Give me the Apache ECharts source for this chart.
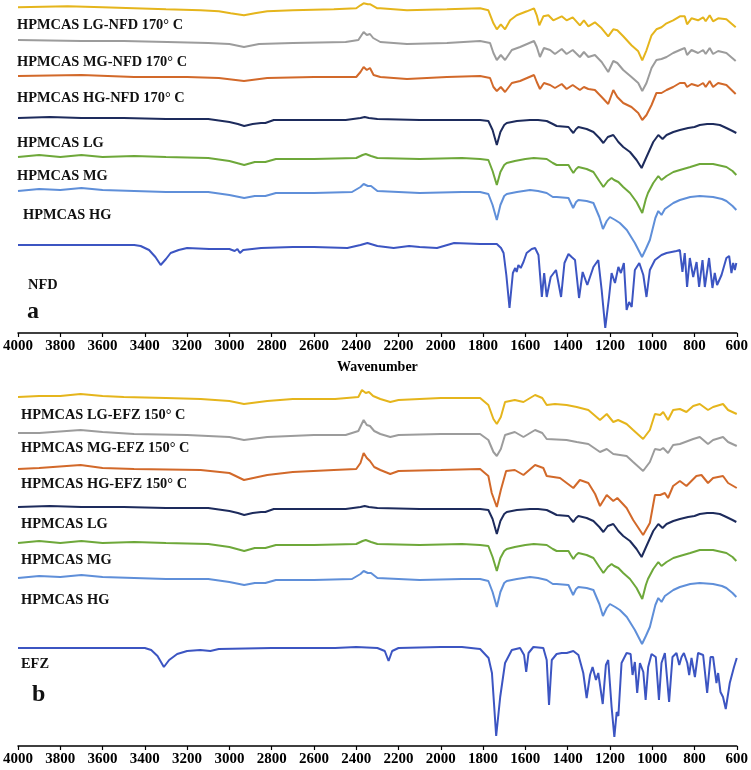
<!DOCTYPE html>
<html>
<head>
<meta charset="utf-8">
<script src="https://cdn.jsdelivr.net/npm/echarts@6/dist/echarts.min.js"></script>
<style>html,body{margin:0;padding:0;background:#fff}#c{width:751px;height:770px}</style>
</head>
<body>
<div id="c"></div>
<script>
// ---------- DATA ----------
// wavenumber axis ticks (cm^-1)
const xMin = 600, xMax = 4000, xStep = 200;

// Spectra: [wavenumber, transmittance change relative to the curve's own baseline (a.u.)]
const hpmcasLG = [[4000,0],[3850,1],[3700,0],[3500,0],[3300,-1],[3100,-1],[3000,-4],[2960,-6],[2930,-8],[2890,-6],[2850,-5],[2830,-5],[2790,-2],[2600,-2],[2450,-2],[2380,0],[2360,1],[2340,0],[2300,-1],[2100,-2],[1950,-2],[1814,-2],[1775,-3],[1755,-12],[1735,-27],[1718,-14],[1700,-7],[1688,-5],[1640,-3],[1578,-2],[1540,-2],[1499,-3],[1470,-6],[1452,-8],[1396,-9],[1385,-12],[1373,-15],[1360,-11],[1349,-9],[1310,-11],[1278,-14],[1250,-20],[1231,-25],[1210,-19],[1184,-17],[1170,-21],[1160,-24],[1137,-29],[1105,-34],[1074,-42],[1050,-50],[1027,-39],[995,-24],[971,-17],[951,-21],[932,-17],[900,-14],[869,-12],[830,-10],[800,-9],[775,-7],[740,-6],[712,-6],[680,-7],[649,-10],[620,-13],[602,-15]];
const hpmcasMG = [[4000,0],[3900,2],[3800,0],[3700,2],[3600,0],[3450,1],[3300,0],[3100,-1],[3000,-4],[2930,-8],[2880,-5],[2830,-5],[2780,-2],[2600,-2],[2400,-1],[2370,2],[2355,3],[2330,1],[2300,-1],[2100,-2],[1900,-1],[1814,-2],[1775,-3],[1755,-14],[1735,-28],[1718,-15],[1700,-8],[1688,-6],[1650,-4],[1600,-2],[1560,-1],[1499,-2],[1470,-6],[1452,-8],[1396,-8],[1385,-12],[1373,-16],[1360,-12],[1349,-10],[1310,-12],[1278,-15],[1250,-24],[1231,-30],[1210,-24],[1192,-21],[1180,-23],[1160,-25],[1137,-30],[1105,-36],[1074,-45],[1047,-56],[1030,-42],[1020,-36],[995,-26],[971,-19],[956,-23],[932,-19],[900,-15],[869,-13],[820,-10],[775,-7],[712,-7],[649,-10],[620,-14],[602,-18]];
const hpmcasHG = [[4000,0],[3900,2],[3800,1],[3700,3],[3600,1],[3450,0],[3300,-1],[3100,-1],[3000,-4],[2930,-7],[2880,-5],[2830,-5],[2780,-2],[2600,-2],[2420,-1],[2380,4],[2365,7],[2345,5],[2330,5],[2300,0],[2100,-2],[1900,-1],[1814,-1],[1775,-3],[1755,-14],[1735,-29],[1718,-14],[1700,-5],[1688,-3],[1640,-1],[1578,1],[1540,0],[1499,-2],[1470,-6],[1452,-6],[1396,-7],[1385,-12],[1374,-17],[1360,-11],[1349,-9],[1310,-10],[1278,-12],[1250,-26],[1233,-38],[1215,-30],[1200,-26],[1175,-29],[1153,-32],[1120,-39],[1082,-52],[1048,-66],[1030,-58],[1011,-49],[985,-27],[971,-20],[956,-24],[940,-18],[900,-12],[869,-9],[820,-6],[775,-5],[712,-6],[670,-8],[649,-10],[620,-15],[602,-19]];
const nfd = [[4000,0],[3700,0],[3450,0],[3420,-1],[3380,-5],[3350,-12],[3325,-20],[3300,-14],[3278,-8],[3240,-5],[3200,-3],[3095,-4],[3000,-4],[2975,-6],[2962,-4],[2950,-8],[2935,-5],[2850,-3],[2700,-2],[2600,-2],[2442,-3],[2380,0],[2347,2],[2300,-1],[2223,-3],[2150,-1],[2100,-2],[2018,-3],[1937,2],[1814,1],[1735,1],[1715,-3],[1703,-8],[1690,-30],[1675,-63],[1659,-28],[1648,-23],[1641,-27],[1633,-20],[1622,-23],[1609,-17],[1594,-8],[1570,-4],[1554,-3],[1538,-10],[1522,-52],[1511,-28],[1499,-52],[1480,-32],[1455,-25],[1431,-52],[1415,-18],[1396,-9],[1381,-12],[1365,-15],[1346,-53],[1329,-27],[1307,-40],[1278,-22],[1255,-15],[1239,-45],[1222,-83],[1204,-52],[1192,-28],[1176,-38],[1160,-22],[1148,-28],[1134,-18],[1121,-65],[1109,-57],[1097,-62],[1082,-25],[1061,-18],[1042,-30],[1027,-52],[1011,-25],[987,-15],[956,-10],[932,-8],[885,-6],[869,-5],[857,-27],[846,-8],[835,-42],[822,-13],[806,-32],[790,-17],[778,-42],[762,-15],[751,-42],[731,-13],[715,-43],[704,-28],[693,-40],[672,-30],[649,-13],[636,-11],[625,-28],[617,-18],[609,-25],[602,-18]];
const efz = [[4000,0],[3800,0],[3600,0],[3400,0],[3370,-2],[3340,-8],[3310,-19],[3285,-12],[3247,-6],[3200,-3],[3138,-2],[3090,-3],[3050,-1],[2800,0],[2600,0],[2500,0],[2400,1],[2300,0],[2265,-3],[2247,-13],[2230,-3],[2200,0],[2000,1],[1900,1],[1814,-1],[1774,-10],[1758,-25],[1738,-88],[1719,-49],[1696,-15],[1664,-2],[1625,0],[1606,-7],[1596,-24],[1585,-5],[1562,1],[1515,0],[1499,-12],[1488,-57],[1475,-12],[1452,-6],[1428,-5],[1404,-5],[1373,-3],[1349,-7],[1326,-25],[1310,-50],[1294,-27],[1282,-19],[1266,-32],[1255,-25],[1234,-56],[1219,-17],[1208,-12],[1192,-59],[1179,-89],[1168,-64],[1160,-68],[1145,-15],[1121,-5],[1102,-6],[1093,-27],[1082,-14],[1071,-45],[1058,-15],[1042,-24],[1031,-52],[1019,-19],[1003,-6],[983,-9],[968,-52],[956,-15],[940,-5],[920,-54],[904,-9],[885,-5],[872,-17],[861,-9],[850,-5],[834,-15],[825,-27],[814,-10],[798,-29],[783,-5],[759,-7],[740,-45],[724,-9],[712,-9],[696,-35],[688,-25],[677,-44],[665,-49],[652,-61],[633,-35],[613,-19],[600,-10]];
const lgNFD = [[4000,0],[3765,1],[3600,0],[3451,-1],[3300,-2],[3136,-3],[3050,-4],[2994,-6],[2931,-8],[2880,-6],[2821,-4],[2700,-3],[2506,-2],[2400,-1],[2380,2],[2365,4],[2345,3],[2333,3],[2300,-1],[2286,-1],[2160,-3],[1971,-2],[1814,-1],[1775,-3],[1751,-16],[1735,-22],[1716,-17],[1696,-22],[1672,-13],[1641,-8],[1593,-4],[1559,-1],[1546,-8],[1534,-18],[1515,-9],[1491,-8],[1468,-13],[1428,-9],[1405,-13],[1376,-10],[1342,-18],[1323,-13],[1302,-19],[1271,-15],[1239,-21],[1208,-29],[1184,-22],[1165,-23],[1137,-29],[1098,-38],[1066,-44],[1047,-53],[1027,-43],[1003,-28],[980,-22],[956,-20],[932,-16],[901,-13],[869,-9],[846,-9],[835,-17],[814,-11],[783,-13],[759,-10],[747,-14],[728,-8],[712,-14],[688,-11],[649,-12],[605,-20]];
const mgNFD = [[4000,0],[3700,-1],[3500,-1],[3294,-2],[3100,-3],[3000,-4],[2931,-7],[2860,-4],[2700,-3],[2450,-2],[2390,0],[2365,8],[2350,5],[2335,6],[2320,2],[2286,-2],[2160,-4],[1971,-3],[1814,-1],[1767,-3],[1751,-13],[1735,-20],[1716,-15],[1696,-20],[1664,-10],[1625,-7],[1559,-1],[1546,-7],[1531,-17],[1512,-8],[1483,-10],[1460,-14],[1428,-9],[1405,-14],[1376,-10],[1342,-17],[1323,-12],[1302,-17],[1271,-15],[1239,-22],[1208,-32],[1184,-21],[1165,-23],[1137,-30],[1098,-37],[1066,-43],[1047,-51],[1027,-43],[1003,-28],[980,-20],[956,-19],[932,-17],[901,-13],[869,-10],[846,-8],[835,-15],[814,-10],[783,-13],[759,-10],[747,-14],[728,-8],[712,-14],[688,-11],[649,-13],[605,-21]];
const hgNFD = [[4000,0],[3700,1],[3451,-1],[3200,-1],[3050,-2],[2931,-5],[2821,-2],[2600,-1],[2400,-1],[2380,4],[2365,9],[2350,6],[2335,8],[2318,1],[2286,-1],[2160,-3],[1971,-1],[1814,0],[1767,-2],[1751,-11],[1735,-15],[1716,-11],[1696,-16],[1664,-7],[1625,-5],[1559,1],[1546,-6],[1531,-13],[1512,-7],[1483,-9],[1460,-12],[1428,-8],[1405,-13],[1376,-9],[1342,-14],[1323,-11],[1302,-13],[1271,-14],[1239,-21],[1208,-28],[1184,-14],[1165,-21],[1137,-27],[1098,-31],[1066,-37],[1047,-44],[1027,-39],[1003,-29],[980,-17],[956,-17],[932,-14],[901,-11],[869,-7],[846,-7],[835,-11],[814,-8],[783,-10],[759,-7],[747,-11],[728,-5],[712,-11],[688,-7],[649,-9],[605,-18]];
const lgEFZ = [[4000,0],[3900,1],[3800,1],[3704,3],[3600,1],[3500,0],[3300,-1],[3136,-2],[3000,-4],[2931,-7],[2821,-4],[2700,-2],[2500,-2],[2390,0],[2373,7],[2355,4],[2340,5],[2320,1],[2286,-2],[2239,-5],[2200,-3],[2000,-1],[1814,-1],[1775,-8],[1751,-22],[1735,-27],[1716,-20],[1696,-5],[1650,-3],[1609,-5],[1554,2],[1520,-1],[1499,-8],[1460,-7],[1405,-8],[1357,-10],[1302,-13],[1247,-23],[1215,-17],[1184,-25],[1161,-23],[1121,-27],[1090,-33],[1043,-42],[1011,-33],[987,-17],[962,-18],[948,-15],[925,-23],[901,-13],[869,-12],[838,-15],[806,-9],[775,-7],[736,-13],[712,-10],[665,-7],[641,-13],[600,-17]];
const mgEFZ = [[4000,0],[3900,0],[3704,3],[3600,1],[3451,-1],[3200,-2],[3000,-4],[2931,-7],[2821,-4],[2600,-2],[2450,-2],[2390,2],[2365,13],[2350,8],[2335,7],[2315,2],[2286,-1],[2239,-4],[2200,-2],[2000,-1],[1814,-1],[1775,-7],[1751,-19],[1735,-23],[1716,-16],[1696,-2],[1650,1],[1609,-4],[1554,3],[1520,0],[1499,-6],[1405,-7],[1357,-9],[1302,-11],[1247,-19],[1215,-16],[1184,-21],[1121,-23],[1090,-29],[1043,-38],[1011,-29],[987,-16],[962,-17],[948,-15],[925,-20],[901,-12],[869,-11],[806,-6],[775,-4],[736,-11],[712,-7],[665,-4],[641,-9],[600,-13]];
const hgEFZ = [[4000,0],[3900,1],[3704,4],[3600,1],[3451,0],[3136,-1],[3000,-4],[2931,-11],[2821,-6],[2700,-3],[2506,-1],[2400,0],[2380,6],[2365,16],[2350,11],[2335,8],[2315,2],[2286,-1],[2239,-5],[2200,-2],[2000,-1],[1814,0],[1775,-7],[1759,-24],[1735,-38],[1716,-21],[1691,-2],[1650,-1],[1609,-6],[1554,4],[1515,1],[1499,-7],[1436,-9],[1373,-19],[1342,-11],[1302,-14],[1270,-25],[1247,-37],[1215,-26],[1184,-32],[1165,-29],[1121,-39],[1090,-51],[1043,-66],[1011,-54],[987,-26],[962,-26],[940,-24],[925,-29],[901,-17],[869,-12],[838,-17],[791,-7],[767,-6],[736,-14],[712,-9],[665,-7],[641,-14],[600,-19]];

// series names and stacking offsets (a.u.) per panel
const namesA = ['HPMCAS LG-NFD 170° C','HPMCAS MG-NFD 170° C','HPMCAS HG-NFD 170° C','HPMCAS LG','HPMCAS MG','HPMCAS HG','NFD'];
const dataA  = [lgNFD, mgNFD, hgNFD, hpmcasLG, hpmcasMG, hpmcasHG, nfd];
const offsetsA = [325.7, 293, 257, 215, 176, 142, 88];
const namesB = ['HPMCAS LG-EFZ 150° C','HPMCAS MG-EFZ 150° C','HPMCAS HG-EFZ 150° C','HPMCAS LG','HPMCAS MG','HPMCAS HG','EFZ'];
const dataB  = [lgEFZ, mgEFZ, hgEFZ, hpmcasLG, hpmcasMG, hpmcasHG, efz];
const offsetsB = [349, 313, 277, 239, 203, 168, 98];
const xTitle = 'Wavenumber';
const panelLetters = ['a','b'];

// ---------- STYLE ----------
const colors = ['#e5b51c','#9c9c9c','#d2692a','#1d2b5c','#6ea83a','#5f8fd9','#3c55c2'];
const serif = '"Liberation Serif","Times New Roman",serif';

const chart = echarts.init(document.getElementById('c'), null, {renderer:'canvas'});

function xAxisCfg(gridIndex, showName){
  return {
    type:'value', gridIndex, min:xMin, max:xMax, interval:xStep, inverse:true,
    axisLine:{show:true, onZero:false, lineStyle:{color:'#000', width:1.5}},
    axisTick:{show:true, inside:false, length:4, lineStyle:{color:'#000', width:1.2}},
    splitLine:{show:false},
    axisLabel:{color:'#000', fontFamily:serif, fontWeight:'bold', fontSize:15, margin:6,
               formatter: v => String(v)},
    name: showName ? xTitle : '', nameLocation:'middle', nameGap:27,
    nameTextStyle:{color:'#000', fontFamily:serif, fontWeight:'bold', fontSize:14}
  };
}
function yAxisCfg(gridIndex, max){
  return {type:'value', gridIndex, min:0, max, show:false, splitLine:{show:false}};
}

const series = [];
function addPanel(names, datas, offsets, idx){
  names.forEach((n,i)=>{
    series.push({
      name:n, type:'line', xAxisIndex:idx, yAxisIndex:idx,
      data: datas[i].map(p=>[p[0], offsets[i]+p[1]]),
      showSymbol:false, symbol:'none', smooth:false, clip:false,
      lineStyle:{color:colors[i], width:2}, animation:false
    });
  });
}
addPanel(namesA, dataA, offsetsA, 0);
addPanel(namesB, dataB, offsetsB, 1);

// label placement (pixels)
const labA = [[17,25],[17,62],[17,98],[17,143],[17,176],[23,215],[28,285]];
const labB = [[21,415],[21,448],[21,484],[21,524],[21,560],[21,600],[21,664]];
const graphic = [];
function addLabels(names, pos){
  names.forEach((n,i)=>graphic.push({type:'text', x:pos[i][0], y:pos[i][1],
    style:{text:n, fill:'#111', font:'bold 14.4px '+serif, verticalAlign:'middle'}}));
}
addLabels(namesA, labA);
addLabels(namesB, labB);
graphic.push({type:'text', x:27, y:312, style:{text:panelLetters[0], fill:'#111', font:'bold 24px '+serif, verticalAlign:'middle'}});
graphic.push({type:'text', x:32, y:695, style:{text:panelLetters[1], fill:'#111', font:'bold 24px '+serif, verticalAlign:'middle'}});

chart.setOption({
  backgroundColor:'#fff',
  animation:false,
  grid:[
    {left:17, right:14, top:0, height:333},
    {left:17, right:14, top:380, height:366}
  ],
  xAxis:[xAxisCfg(0,true), xAxisCfg(1,false)],
  yAxis:[yAxisCfg(0,333), yAxisCfg(1,366)],
  series,
  graphic
});
</script>
</body>
</html>
